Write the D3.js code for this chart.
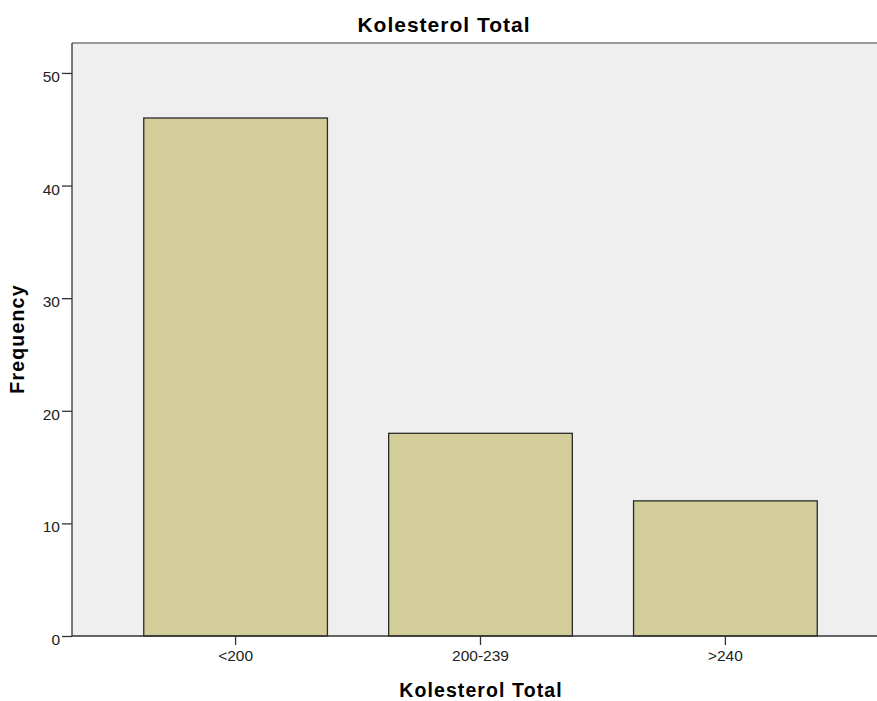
<!DOCTYPE html>
<html>
<head>
<meta charset="utf-8">
<script src="https://cdn.jsdelivr.net/npm/d3@7"></script>
<style>
  html, body { margin: 0; padding: 0; background: #fff; }
  svg { display: block; font-family: "Liberation Sans", Arial, sans-serif; }
</style>
</head>
<body>
<svg id="chart" width="877" height="701"></svg>
<script>
const categories = ["<200", "200-239", ">240"];
const frequencies = [46, 18, 12];
const yTicks = [0, 10, 20, 30, 40, 50];
const chartTitle = "Kolesterol Total";
const xTitle = "Kolesterol Total";
const yTitle = "Frequency";

(function () {
const svg = d3.select("#chart");
const pLeft = 72, pTop = 43, pBottom = 636, pRight = 889;
const W = 877;

const x = d3.scaleBand().domain(categories).range([pLeft, pRight])
  .paddingInner(0.25).paddingOuter(0.293);
const y = d3.scaleLinear().domain([0, 52.66]).range([pBottom, pTop]);

// plot background
svg.append("rect").attr("x", pLeft).attr("y", pTop)
  .attr("width", W - pLeft).attr("height", pBottom - pTop)
  .attr("fill", "#efefef");
svg.append("line").attr("x1", pLeft).attr("x2", W).attr("y1", pTop).attr("y2", pTop)
  .attr("stroke", "#7a7a7a").attr("stroke-width", 1.6);

// bars
svg.append("g").selectAll("rect").data(categories).join("rect")
  .attr("x", d => x(d))
  .attr("y", (d, i) => y(frequencies[i]))
  .attr("width", x.bandwidth())
  .attr("height", (d, i) => y(0) - y(frequencies[i]))
  .attr("fill", "#d3ce99")
  .attr("stroke", "#2a2a2a")
  .attr("stroke-width", 1.3);

// y axis
const yAxis = svg.append("g").attr("transform", `translate(${pLeft},0)`)
  .call(d3.axisLeft(y).tickValues(yTicks).tickSize(10).tickPadding(2).tickSizeOuter(0));
yAxis.select(".domain").attr("d", `M0,${pTop}V${pBottom}`).attr("stroke", "#333").attr("stroke-width", 1.3);
yAxis.selectAll(".tick line").attr("stroke", "#333").attr("stroke-width", 1.3);
yAxis.selectAll(".tick text").attr("font-size", "15.5px").attr("fill", "#222")
  .attr("font-family", "'Liberation Sans', Arial, sans-serif").attr("dy", "0.55em");

// x axis
const xAxis = svg.append("g").attr("transform", `translate(0,${pBottom})`)
  .call(d3.axisBottom(x).tickSize(9).tickPadding(5).tickSizeOuter(0));
xAxis.select(".domain").attr("d", `M${pLeft},0H${W}`).attr("stroke", "#333").attr("stroke-width", 1.3);
xAxis.selectAll(".tick line").attr("stroke", "#333").attr("stroke-width", 1.3);
xAxis.selectAll(".tick text").attr("font-size", "15.5px").attr("fill", "#222")
  .attr("font-family", "'Liberation Sans', Arial, sans-serif").attr("dy", "0.71em");

// titles
svg.append("text").attr("x", 444).attr("y", 31.5).attr("text-anchor", "middle")
  .attr("font-size", "21px").attr("font-weight", "bold").attr("letter-spacing", "1px")
  .attr("fill", "#000").text(chartTitle);
svg.append("text").attr("x", 481).attr("y", 696.5).attr("text-anchor", "middle")
  .attr("font-size", "19.5px").attr("font-weight", "bold").attr("letter-spacing", "1.1px")
  .attr("fill", "#000").text(xTitle);
svg.append("text").attr("transform", "translate(24,339) rotate(-90)").attr("text-anchor", "middle")
  .attr("font-size", "19.5px").attr("font-weight", "bold").attr("letter-spacing", "1.2px")
  .attr("fill", "#000").text(yTitle);
})();
</script>
</body>
</html>
